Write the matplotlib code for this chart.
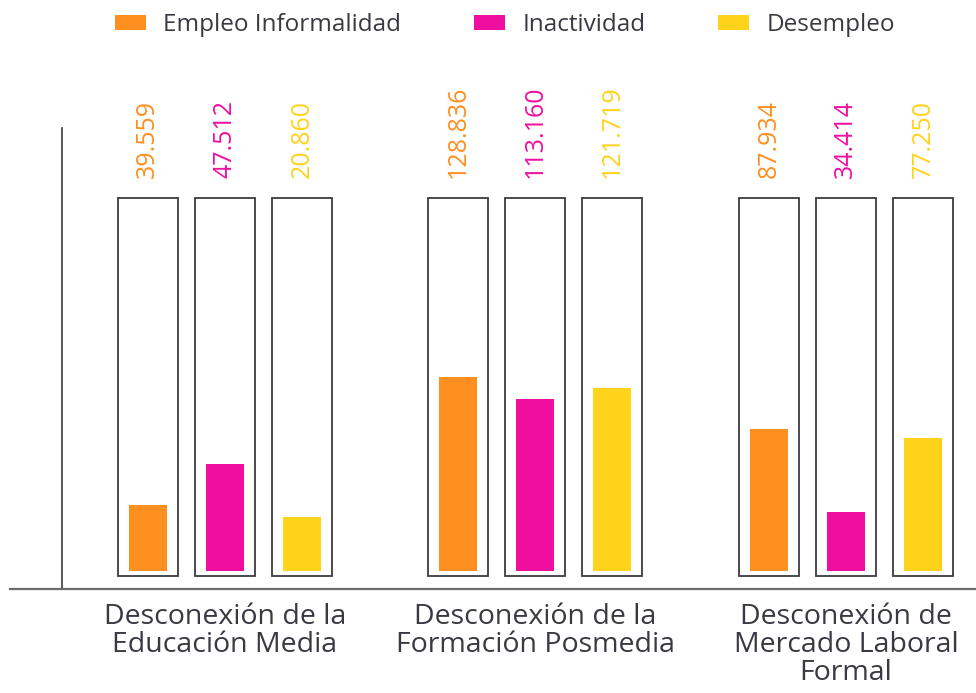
import numpy as np
import matplotlib
matplotlib.use("Agg")
import matplotlib.pyplot as plt
from matplotlib.patches import Patch

plt.rcParams['font.family'] = ['Open Sans', 'DejaVu Sans']

# --- data ---
categories = ["Desconexión de la\nEducación Media",
              "Desconexión de la\nFormación Posmedia",
              "Desconexión de\nMercado Laboral\nFormal"]
series = ["Empleo Informalidad", "Inactividad", "Desempleo"]
colors = ["#FF8F1F", "#F00EA0", "#FFD31A"]

# numbers printed above each bar
informalidad = [39.559, 128.836, 87.934]
inactividad = [47.512, 113.160, 34.414]
desempleo = [20.860, 121.719, 77.250]
# bar fill, as share of the frame (%)
fill_informalidad = [17.7, 52.0, 38.1]
fill_inactividad = [28.7, 46.1, 15.8]
fill_desempleo = [14.5, 49.1, 35.7]

labels = [informalidad, inactividad, desempleo]
fills = [fill_informalidad, fill_inactividad, fill_desempleo]

text_color = "#3a3842"
frame_color = "#3c3a42"

fig = plt.figure(figsize=(9.76, 6.93), dpi=100)
ax = fig.add_axes([10 / 976, 1 - 589 / 693, 966 / 976, (589 - 128) / 693])

x = np.arange(len(categories))
offset = 0.248
frame_w = 0.193
bar_w = 0.122

for i in range(3):
    pos = x + (i - 1) * offset
    # outline frame
    ax.bar(pos, 101.34, width=frame_w, bottom=-1.34, facecolor="white",
           edgecolor=frame_color, linewidth=1.3, zorder=2)
    ax.bar(pos, fills[i], width=bar_w, color=colors[i], zorder=3)
    for p, v in zip(pos, labels[i]):
        ax.text(p, 105.4, f"{v:.3f}", rotation=90, ha="center", va="bottom",
                color=colors[i], fontsize=18)

ax.set_xlim(-0.692, 2.419)
ax.set_ylim(-4.83, 118.8)

ax.spines["top"].set_visible(False)
ax.spines["right"].set_visible(False)
ax.spines["left"].set_position(("data", -0.525))
ax.spines["left"].set_color("#3a3a3a")
ax.spines["bottom"].set_color("#6a6a6a")
ax.spines["left"].set_linewidth(1.2)
ax.spines["bottom"].set_linewidth(1.6)
ax.set_yticks([])
ax.set_xticks(x)
ax.set_xticklabels(categories, fontsize=20.5, color=text_color, linespacing=1.0)
ax.tick_params(axis="x", length=0, pad=10)

handles = [Patch(facecolor=c, edgecolor="none") for c in colors]
fig.legend(handles, series, loc="center", bbox_to_anchor=(505 / 976, 1 - 25 / 693),
           ncol=3, frameon=False, fontsize=17.5, handlelength=1.28, handleheight=0.53,
           handletextpad=0.7, columnspacing=3.0, labelcolor=text_color)

fig.savefig("out.png", dpi=100)
